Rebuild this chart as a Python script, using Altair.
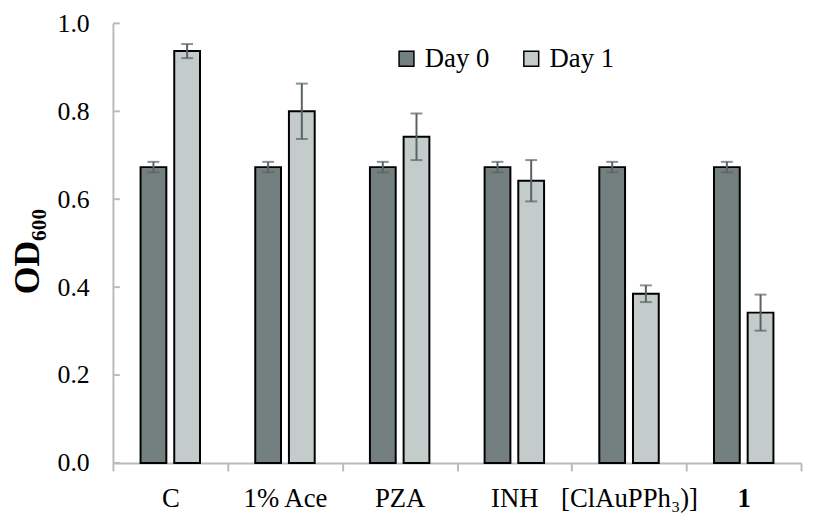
import altair as alt
import pandas as pd

categories = ["C", "1% Ace", "PZA", "INH", "[ClAuPPh₃)]", "1"]
days = ["Day 0", "Day 1"]
day0_values = [0.673, 0.673, 0.673, 0.673, 0.673, 0.673]
day0_errors = [0.012, 0.012, 0.012, 0.012, 0.012, 0.012]
day1_values = [0.937, 0.800, 0.742, 0.642, 0.385, 0.342]
day1_errors = [0.016, 0.063, 0.053, 0.047, 0.019, 0.041]
y_ticks = [0.0, 0.2, 0.4, 0.6, 0.8, 1.0]

rows = []
for c, v, e in zip(categories, day0_values, day0_errors):
    rows.append({"cat": c, "day": days[0], "value": v, "err": e})
for c, v, e in zip(categories, day1_values, day1_errors):
    rows.append({"cat": c, "day": days[1], "value": v, "err": e})
df = pd.DataFrame(rows)
df["lo"] = df["value"] - df["err"]
df["hi"] = df["value"] + df["err"]

FONT = "Liberation Serif"
AXIS_GRAY = "#b7bcbc"
ERR = "#586262"

x_enc = alt.X(
    "cat:N",
    sort=categories,
    scale=alt.Scale(paddingInner=0, paddingOuter=0),
    axis=alt.Axis(
        title=None,
        labelAngle=0,
        labelFont=FONT,
        labelFontSize=27,
        labelColor="black",
        labelPadding=15,
        labelFontWeight=alt.expr("datum.value === '1' ? 'bold' : 'normal'"),
        tickBand="extent",
        ticks=True,
        tickSize=8,
        tickWidth=2,
        tickColor=AXIS_GRAY,
        domainColor=AXIS_GRAY,
        domainWidth=2,
        grid=False,
    ),
)
xo_enc = alt.XOffset(
    "day:N",
    sort=days,
    scale=alt.Scale(paddingInner=0.235, paddingOuter=0.82),
)
y_scale = alt.Scale(domain=[0, 1], nice=False)
y_enc = alt.Y(
    "value:Q",
    scale=y_scale,
    axis=alt.Axis(
        title="OD₆₀₀",
        titleFont=FONT,
        titleFontSize=36,
        titleFontWeight="bold",
        titleColor="black",
        titleAngle=-90,
        titleAlign="center",
        titleBaseline="middle",
        titleX=-86,
        titleY=230,
        values=y_ticks,
        format=".1f",
        labelFont=FONT,
        labelFontSize=26,
        labelColor="black",
        labelPadding=24,
        ticks=False,
        tickSize=0,
        domainColor=AXIS_GRAY,
        domainWidth=2,
        grid=False,
    ),
)

bars = alt.Chart(df).mark_bar(stroke="black", strokeWidth=2).encode(
    x=x_enc,
    xOffset=xo_enc,
    y=y_enc,
    color=alt.Color(
        "day:N",
        sort=days,
        scale=alt.Scale(domain=days, range=["#748080", "#c4cccb"]),
        legend=alt.Legend(
            title=None,
            orient="none",
            direction="horizontal",
            legendX=283,
            legendY=22,
            padding=0,
            symbolType="square",
            symbolSize=225,
            symbolStrokeColor="black",
            symbolStrokeWidth=1.5,
            labelFont=FONT,
            labelFontSize=27,
            labelColor="black",
            labelOffset=5,
            columnPadding=28,
        ),
    ),
)

err_rule = alt.Chart(df).mark_rule(color=ERR, strokeWidth=2).encode(
    x=alt.X("cat:N", sort=categories),
    xOffset=alt.XOffset("day:N", sort=days),
    y=alt.Y("lo:Q", scale=y_scale),
    y2="hi:Q",
)
cap_lo = alt.Chart(df).mark_tick(color=ERR, size=12, thickness=2).encode(
    x=alt.X("cat:N", sort=categories),
    xOffset=alt.XOffset("day:N", sort=days),
    y=alt.Y("lo:Q", scale=y_scale),
)
cap_hi = alt.Chart(df).mark_tick(color=ERR, size=12, thickness=2).encode(
    x=alt.X("cat:N", sort=categories),
    xOffset=alt.XOffset("day:N", sort=days),
    y=alt.Y("hi:Q", scale=y_scale),
)

ticks_df = pd.DataFrame({"v": y_ticks})
y_tick_marks = alt.Chart(ticks_df).mark_rule(color=AXIS_GRAY, strokeWidth=2).encode(
    y=alt.Y("v:Q", scale=y_scale),
    x=alt.value(0),
    x2=alt.value(7),
)

chart = (
    alt.layer(bars, err_rule, cap_lo, cap_hi, y_tick_marks)
    .properties(
        width=695,
        height=444,
        autosize=alt.AutoSizeParams(type="none"),
        padding={"left": 106, "top": 13, "right": 5, "bottom": 49},
        background="white",
    )
    .configure_view(strokeWidth=0)
)

chart.save("out.html", embed_options={"renderer": "svg", "actions": False})
